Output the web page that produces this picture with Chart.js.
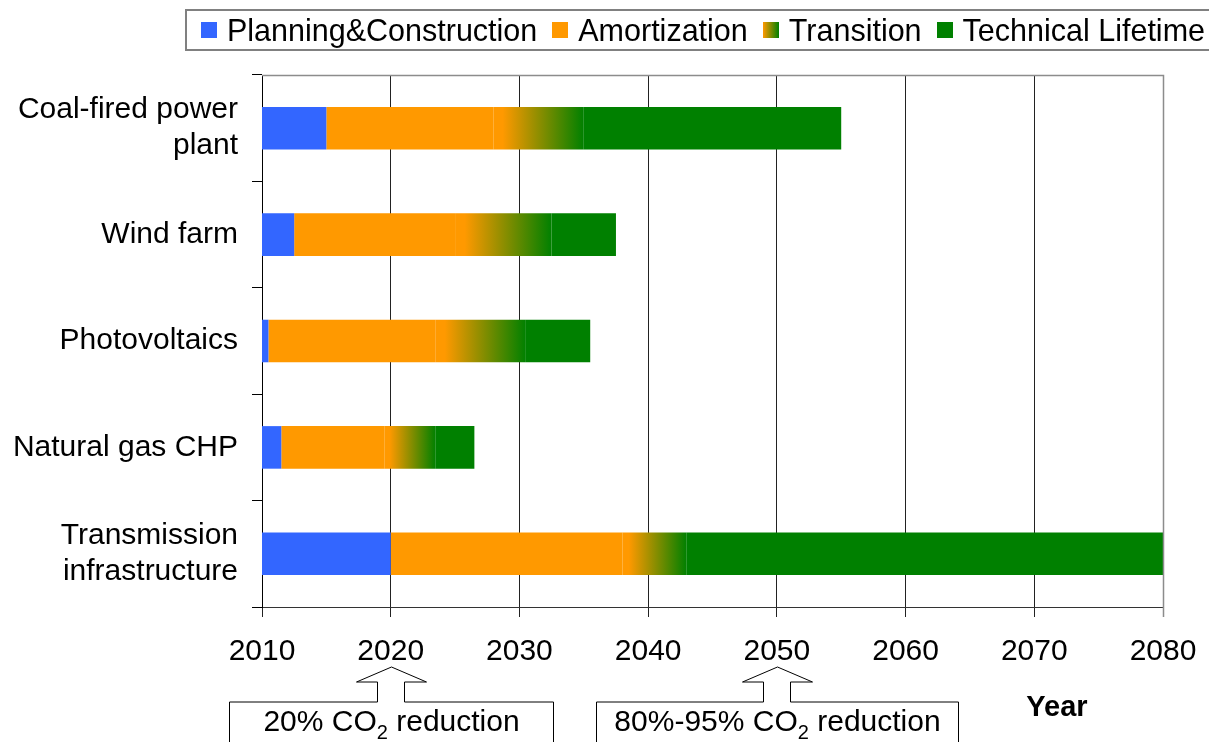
<!DOCTYPE html>
<html>
<head>
<meta charset="utf-8">
<script src="https://cdn.jsdelivr.net/npm/chart.js@4.4.1/dist/chart.umd.min.js"></script>
<style>
  html, body { margin: 0; padding: 0; background: #fff; }
  #wrap { position: relative; width: 1209px; height: 742px; overflow: hidden; }
  #legend {
    position: absolute; left: 185px; top: 9px; height: 38px; width: 1040px;
    border: 2px solid #808080; display: flex; align-items: center;
    padding-left: 14px; box-sizing: content-box;
    font: 30.5px "Liberation Sans", Arial, sans-serif; color: #000; white-space: nowrap;
  }
  #legend .item { display: flex; align-items: center; margin-right: 15px; }
  #legend .sw { width: 16px; height: 16px; margin-right: 10px; }
</style>
</head>
<body>
<div id="wrap">
  <canvas id="c" width="1209" height="742"></canvas>
  <div id="legend"></div>
</div>
<script>
"use strict";

const COLORS = {
  planning: "#3366ff",
  amortization: "#ff9900",
  technical: "#008000",
  grid: "#222",
  frame: "#8c8c8c",
};

// categories, top to bottom
const CATEGORIES = [
  ["Coal-fired power", "plant"],
  "Wind farm",
  "Photovoltaics",
  "Natural gas CHP",
  ["Transmission", "infrastructure"],
];

// phase boundaries in years
const START = [2010, 2010, 2010, 2010, 2010];
const PLANNING_END = [2015, 2012.5, 2010.5, 2011.5, 2020];
const AMORTIZATION_END = [2028, 2025, 2023.5, 2019.5, 2038];
const TRANSITION_END = [2035, 2032.5, 2030.5, 2023.5, 2043];
const LIFETIME_END = [2055, 2037.5, 2035.5, 2026.5, 2080];

const YEAR_TICKS = [2010, 2020, 2030, 2040, 2050, 2060, 2070, 2080];

// milestone annotations below the axis
const MILESTONE_YEARS = [2020, 2050];
const MILESTONE_TEXT = [["20% CO", "2", " reduction"], ["80%-95% CO", "2", " reduction"]];
const MILESTONE_BOX_W = [324, 362];

const SERIES = ["Planning&Construction", "Amortization", "Transition", "Technical Lifetime"];

const FONT = '"Liberation Sans", Arial, sans-serif';
Chart.defaults.font.family = FONT;
Chart.defaults.font.size = 30;
Chart.defaults.color = "#000";

function spans(a, b) {
  return a.map((v, i) => [v, b[i]]);
}

function transitionFill(c) {
  const chart = c.chart;
  if (!chart.chartArea || !Array.isArray(c.raw)) return COLORS.amortization;
  const x = chart.scales.x;
  const x0 = x.getPixelForValue(c.raw[0]);
  const x1 = x.getPixelForValue(c.raw[1]);
  const g = chart.ctx.createLinearGradient(x0, 0, x1, 0);
  g.addColorStop(0, COLORS.amortization);
  g.addColorStop(0.1, COLORS.amortization);
  g.addColorStop(1, COLORS.technical);
  return g;
}

function bar(label, data, color) {
  return { label, data, backgroundColor: color, borderWidth: 0, grouped: false,
           barPercentage: 0.4, categoryPercentage: 1 };
}

const datasets = [
  bar(SERIES[0], spans(START, PLANNING_END), COLORS.planning),
  bar(SERIES[1], spans(PLANNING_END, AMORTIZATION_END), COLORS.amortization),
  bar(SERIES[2], spans(AMORTIZATION_END, TRANSITION_END), transitionFill),
  bar(SERIES[3], spans(TRANSITION_END, LIFETIME_END), COLORS.technical),
];

// legend (html, so the transition swatch can be a gradient)
const legendSw = [
  COLORS.planning,
  COLORS.amortization,
  `linear-gradient(to right, ${COLORS.amortization}, ${COLORS.technical})`,
  COLORS.technical,
];
document.getElementById("legend").innerHTML = SERIES.map((s, i) =>
  `<div class="item"><div class="sw" style="background:${legendSw[i]}"></div>${s.replace("&", "&amp;")}</div>`
).join("");

const extras = {
  id: "extras",
  afterDraw(chart) {
    const { ctx, chartArea: a, scales } = chart;
    ctx.save();
    // grey frame top/right
    ctx.strokeStyle = COLORS.frame;
    ctx.lineWidth = 1.5;
    ctx.beginPath();
    ctx.moveTo(a.left, a.top + 0.5);
    ctx.lineTo(a.right + 0.5, a.top + 0.5);
    ctx.lineTo(a.right + 0.5, a.bottom + 10);
    ctx.stroke();

    // milestone arrows + boxes
    const tipY = 667, headY = 682, boxY = 702, boxB = 760;
    MILESTONE_YEARS.forEach((yr, i) => {
      const cx = Math.round(scales.x.getPixelForValue(yr)) + 0.5;
      const hw = MILESTONE_BOX_W[i] / 2;
      ctx.beginPath();
      ctx.moveTo(cx - hw, boxB);
      ctx.lineTo(cx - hw, boxY);
      ctx.lineTo(cx - 14, boxY);
      ctx.lineTo(cx - 14, headY);
      ctx.lineTo(cx - 35, headY);
      ctx.lineTo(cx, tipY);
      ctx.lineTo(cx + 35, headY);
      ctx.lineTo(cx + 13, headY);
      ctx.lineTo(cx + 13, boxY);
      ctx.lineTo(cx + hw, boxY);
      ctx.lineTo(cx + hw, boxB);
      ctx.closePath();
      ctx.fillStyle = "#fff";
      ctx.fill();
      ctx.strokeStyle = "#000";
      ctx.lineWidth = 1;
      ctx.stroke();

      const [pre, sub, post] = MILESTONE_TEXT[i];
      ctx.fillStyle = "#000";
      ctx.textBaseline = "alphabetic";
      ctx.textAlign = "left";
      ctx.font = `30px ${FONT}`;
      const wPre = ctx.measureText(pre).width, wPost = ctx.measureText(post).width;
      ctx.font = `20px ${FONT}`;
      const wSub = ctx.measureText(sub).width;
      let x = cx - (wPre + wSub + wPost) / 2;
      const base = 731;
      ctx.font = `30px ${FONT}`;
      ctx.fillText(pre, x, base);
      x += wPre;
      ctx.font = `20px ${FONT}`;
      ctx.fillText(sub, x, base + 8);
      x += wSub;
      ctx.font = `30px ${FONT}`;
      ctx.fillText(post, x, base);
    });

    // axis title
    ctx.font = `bold 29px ${FONT}`;
    ctx.textAlign = "center";
    ctx.fillText("Year", 1057, 716);
    ctx.restore();
  },
};

new Chart(document.getElementById("c"), {
  type: "bar",
  data: { labels: CATEGORIES, datasets },
  options: {
    indexAxis: "y",
    responsive: false,
    animation: false,
    layout: { padding: { top: 75, right: 46, left: 0, bottom: 0 } },
    plugins: { legend: { display: false }, tooltip: { enabled: false } },
    scales: {
      x: {
        type: "linear",
        min: 2010,
        max: 2080,
        afterBuildTicks: (s) => { s.ticks = YEAR_TICKS.map((v) => ({ value: v })); },
        afterFit: (s) => { s.height = 135; s.paddingRight = 0; s.paddingLeft = 0; },
        ticks: { callback: (v) => String(v), padding: 17, maxRotation: 0, autoSkip: false },
        grid: { color: COLORS.grid, lineWidth: 1, tickLength: 10, drawTicks: true },
        border: { color: "#333", width: 1 },
      },
      y: {
        afterFit: (s) => { s.width = 262; },
        ticks: { padding: 14, autoSkip: false },
        grid: { drawOnChartArea: false, tickLength: 10, color: "#000" },
        border: { color: "#000", width: 1 },
      },
    },
  },
  plugins: [extras],
});
</script>
</body>
</html>
